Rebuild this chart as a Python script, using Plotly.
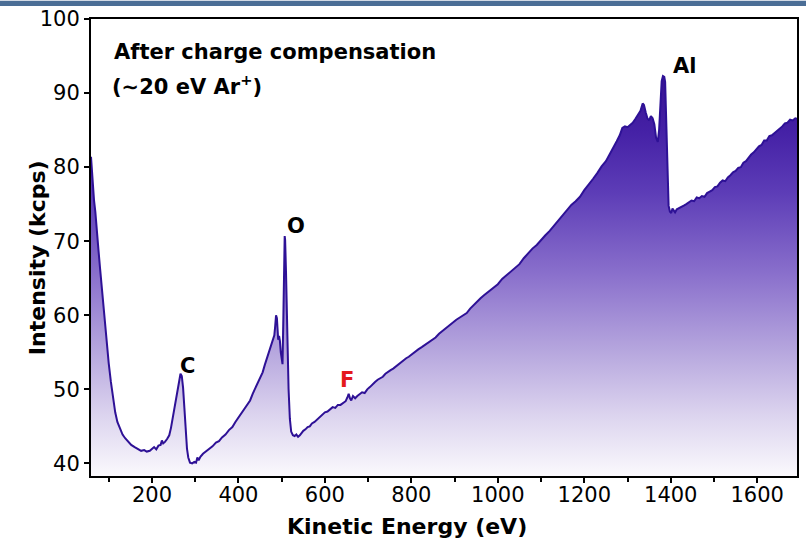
import plotly.graph_objects as go

energy = [59,61,63,66,69,72,76,80,85,90,95,100,105,110,115,120,126,132,138,145,152,160,167,175,182,188,195,200,205,210,215,220,223,226,230,235,240,244,248,252,256,260,263,266,269,272,275,278,281,284,288,293,298,302,305,308,312,318,325,332,340,348,355,362,370,378,386,393,400,405,410,416,421,427,433,439,445,451,456,461,465,469,473,477,480,483,485,487,489,490,492,494,496,498,500,502,504,506,507,508,510,512,514,516,519,522,526,530,534,538,542,546,550,555,560,565,570,576,582,588,594,600,606,612,618,624,630,636,642,648,652,655,658,661,665,670,675,680,686,692,698,704,710,716,722,728,734,740,746,752,758,764,770,776,782,788,794,800,808,816,824,832,840,848,856,864,872,880,888,896,904,912,920,928,936,944,952,960,968,976,984,992,1000,1010,1020,1030,1040,1050,1060,1070,1080,1090,1100,1110,1120,1130,1140,1150,1160,1170,1180,1190,1200,1210,1220,1230,1240,1250,1260,1268,1275,1282,1288,1294,1300,1306,1312,1318,1324,1330,1335,1338,1342,1346,1350,1354,1358,1362,1366,1370,1373,1376,1379,1382,1385,1387,1389,1391,1393,1395,1398,1401,1404,1407,1410,1414,1418,1424,1430,1436,1442,1448,1454,1460,1466,1472,1478,1484,1490,1496,1502,1508,1514,1520,1526,1532,1538,1544,1550,1556,1562,1568,1574,1580,1586,1592,1598,1604,1610,1616,1622,1628,1634,1640,1646,1652,1658,1664,1670,1676,1682,1688,1694]
intensity = [81.4,79.5,77.0,75.5,74.0,71.5,69.0,66.3,63.0,60.0,56.5,53.5,51.0,48.8,46.9,45.6,44.6,43.9,43.4,42.9,42.5,42.2,42.0,41.7,41.8,41.6,41.7,41.9,42.2,41.9,42.4,42.5,43.1,42.7,42.9,43.3,43.8,44.8,46.2,47.6,48.6,50.5,51.6,52.1,51.8,50.2,47.5,44.5,42.0,40.8,40.1,40.0,40.2,40.1,40.8,40.4,40.9,41.3,41.6,41.9,42.3,42.8,43.0,43.5,43.9,44.5,44.9,45.6,46.2,46.5,47.0,47.4,47.9,48.5,49.4,50.1,50.9,51.6,52.3,53.3,54.0,54.8,55.5,56.3,56.8,57.3,58.5,60.0,59.6,57.5,56.7,57.2,56.5,55.0,54.0,53.4,60.0,68.0,70.7,70.2,66.0,60.0,55.0,50.0,46.0,44.3,43.8,43.7,43.9,43.6,43.8,44.2,44.4,44.6,44.9,45.0,45.4,45.6,45.9,46.3,46.5,46.9,47.0,47.3,47.6,47.5,47.9,47.9,48.1,48.4,48.9,49.4,48.8,48.5,49.1,48.8,49.1,49.3,49.6,49.5,50.0,50.3,50.7,51.0,51.3,51.5,51.7,52.1,52.4,52.6,52.8,53.1,53.3,53.6,53.9,54.2,54.4,54.7,55.0,55.4,55.7,56.0,56.4,56.6,57.0,57.5,57.9,58.3,58.6,59.0,59.4,59.7,60.0,60.3,60.9,61.4,61.9,62.3,62.7,63.1,63.5,63.9,64.2,64.9,65.4,65.9,66.4,66.9,67.7,68.4,69.0,69.5,70.2,70.8,71.4,72.1,72.8,73.4,74.2,74.9,75.4,76.0,76.9,77.6,78.4,79.2,80.1,80.8,81.8,82.6,83.5,84.3,85.3,85.5,85.4,85.7,86.0,86.5,87.0,87.6,88.6,88.4,87.4,86.6,86.3,86.9,86.6,85.8,84.0,83.4,85.0,88.0,91.6,92.3,92.2,91.5,87.5,82.0,77.5,74.8,74.0,73.8,74.4,74.1,73.9,74.3,74.4,74.6,74.8,75.0,75.2,75.5,75.4,75.9,75.8,76.1,76.0,76.5,76.7,76.9,77.3,77.4,77.9,78.2,78.1,78.6,78.9,79.3,79.5,79.9,80.0,80.6,80.8,81.3,81.7,82.0,82.4,82.8,83.0,83.6,83.6,84.2,84.3,84.6,84.8,85.2,85.5,85.9,86.0,86.4,86.3,86.6,86.5]

x_ticks = [200, 400, 600, 800, 1000, 1200, 1400, 1600]
y_ticks = [40, 50, 60, 70, 80, 90, 100]

peak_labels = ["C", "O", "F", "Al"]
peak_x = [282, 534, 652, 1432]
peak_y = [53.2, 72.0, 51.3, 93.6]
peak_colors = ["black", "black", "#e41a1c", "black"]

FONT = "DejaVu Sans"

fig = go.Figure()
fig.add_trace(go.Scatter(
    x=energy, y=intensity, mode="lines",
    line=dict(color="#2e1196", width=2),
    fill="tozeroy",
    fillgradient=dict(
        type="vertical", start=38.3, stop=93,
        colorscale=[[0, "#fbfafd"], [0.15, "#ddd5ef"], [0.3, "#b9aadf"],
                    [0.5, "#8a70cc"], [0.7, "#5d3db7"], [0.85, "#4521a6"],
                    [1.0, "#36108f"]]),
    showlegend=False, hoverinfo="skip"))

for lab, px, py, col in zip(peak_labels, peak_x, peak_y, peak_colors):
    fig.add_annotation(x=px, y=py, text="<b>%s</b>" % lab, showarrow=False,
                       font=dict(family=FONT, size=21, color=col),
                       xanchor="center", yanchor="middle")

fig.add_annotation(x=0.0297, y=0.928, xref="paper", yref="paper",
                   text="<b>After charge compensation</b>",
                   showarrow=False, xanchor="left", yanchor="middle",
                   font=dict(family=FONT, size=21, color="black"))
fig.add_annotation(x=0.027, y=0.856, xref="paper", yref="paper",
                   text="<b>(∼20 eV Ar<sup>+</sup>)</b>",
                   showarrow=False, xanchor="left", yanchor="middle",
                   font=dict(family=FONT, size=21, color="black"))

# axis titles
fig.add_annotation(x=0.448, y=-0.111, xref="paper", yref="paper",
                   text="<b>Kinetic Energy (eV)</b>", showarrow=False,
                   xanchor="center", yanchor="middle",
                   font=dict(family=FONT, size=22, color="black"))
fig.add_annotation(x=-0.0763, y=0.477, xref="paper", yref="paper",
                   text="<b>Intensity (kcps)</b>", showarrow=False, textangle=-90,
                   xanchor="center", yanchor="middle",
                   font=dict(family=FONT, size=22, color="black"))

fig.add_shape(type="rect", xref="paper", yref="paper", x0=-0.2, x1=1.02,
              y0=1.0283, y1=1.04, fillcolor="#4b6e96", line=dict(width=0), layer="above")

fig.update_layout(
    width=806, height=547,
    margin=dict(l=91, r=7, t=17, b=71),
    paper_bgcolor="white", plot_bgcolor="white",
    font=dict(family=FONT, color="black"),
    xaxis=dict(range=[59, 1692], tickvals=x_ticks, ticks="outside", ticklen=5,
               tickwidth=1.5, tickcolor="black", ticklabelstandoff=-6,
               minor=dict(dtick=100, tick0=100, ticks="outside", ticklen=4, tickwidth=1.5, tickcolor="black"),
               showline=True, linecolor="black", linewidth=2, mirror=True,
               showgrid=False, zeroline=False,
               tickfont=dict(family=FONT, size=21)),
    yaxis=dict(range=[38.3, 100], tickvals=y_ticks, ticks="outside", ticklen=5,
               tickwidth=1.5, tickcolor="black",
               showline=True, linecolor="black", linewidth=2, mirror=True,
               showgrid=False, zeroline=False,
               tickfont=dict(family=FONT, size=21)),
)

fig.write_html("out.html")
